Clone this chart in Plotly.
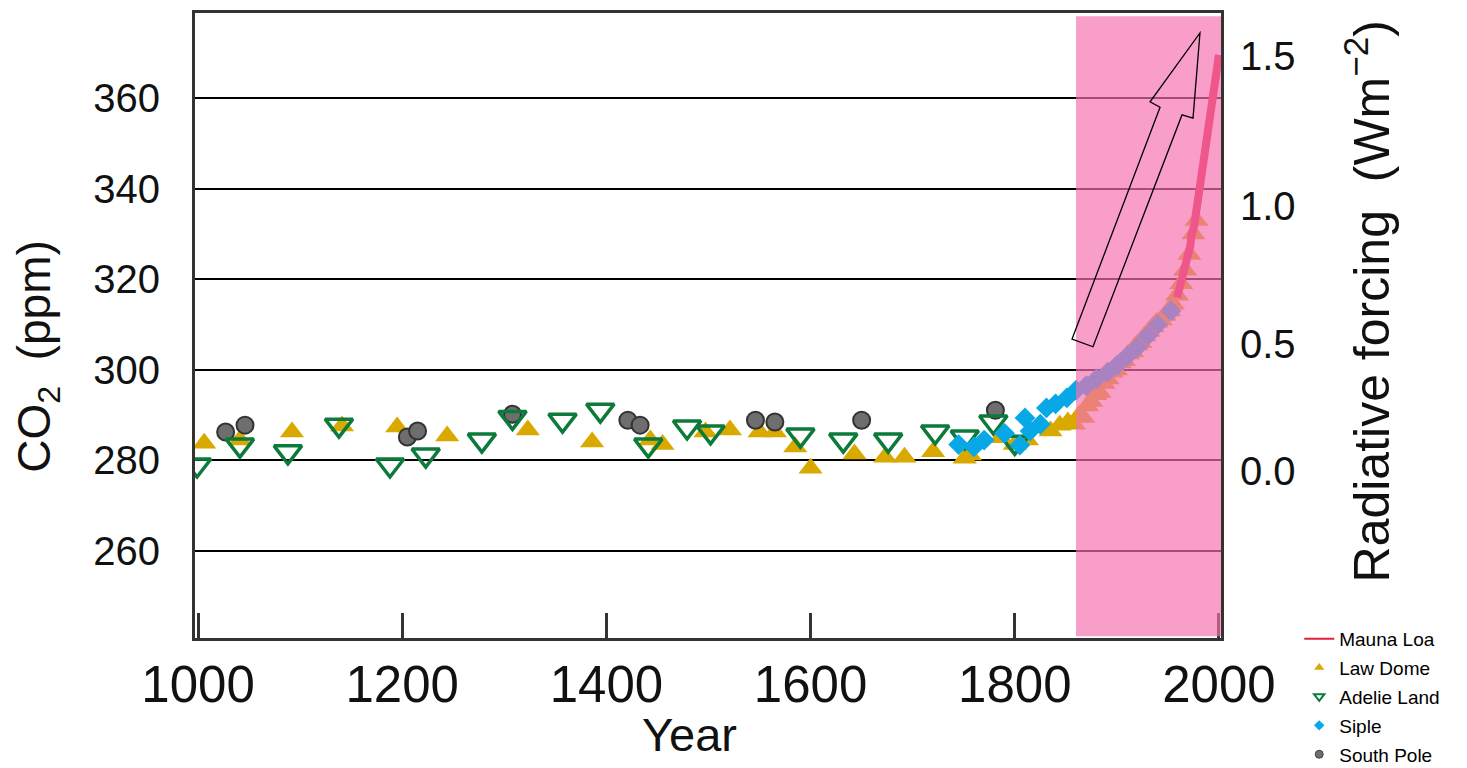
import plotly.graph_objects as go

# ---------------- data ----------------
law_dome_year = [1006, 1041, 1092, 1141, 1195, 1244, 1323, 1386, 1443, 1455, 1497, 1521, 1550,
                 1565, 1585, 1600, 1643, 1673, 1692, 1720, 1751, 1756, 1786, 1800, 1812, 1825,
                 1835, 1844, 1852, 1858, 1863, 1867, 1871, 1875, 1879, 1883, 1887, 1891, 1895,
                 1899, 1903, 1907, 1911, 1915, 1919, 1923, 1927, 1931, 1935, 1939, 1943, 1947,
                 1951, 1955, 1959, 1963, 1967, 1971, 1975, 1978]
law_dome_co2 = [283.8, 284.5, 286.3, 287.6, 287.4, 285.4, 286.7, 284.1, 284.5, 283.5, 286.3, 286.7, 286.3,
                286.3, 283.0, 278.3, 281.4, 280.7, 280.7, 281.9, 280.5, 281.2, 285.0, 283.5, 284.5, 287.2,
                286.5, 287.8, 288.5, 288.0, 290.0, 289.5, 292.0, 293.0, 294.5, 295.0, 297.0, 298.0, 299.5,
                300.0, 301.5, 302.0, 303.5, 304.0, 305.5, 306.0, 307.5, 308.5, 309.5, 310.5, 311.0, 312.0,
                313.0, 314.5, 316.5, 319.0, 322.0, 325.5, 330.0, 333.0]

adelie_year = [999, 1041, 1088, 1138, 1188, 1223, 1278, 1308, 1357, 1394, 1441, 1479, 1502,
               1590, 1632, 1676, 1722, 1751, 1779, 1800]
adelie_co2 = [279.0, 283.4, 281.9, 287.8, 279.0, 281.2, 284.5, 289.5, 288.9, 291.1, 283.4, 287.4, 286.3,
              285.6, 284.5, 284.5, 286.3, 285.2, 288.5, 284.0]

siple_year = [1745, 1760, 1770, 1790, 1805, 1810, 1815, 1825, 1831, 1840, 1851, 1860, 1870,
              1880, 1891, 1900, 1910, 1920, 1930, 1940, 1953]
siple_co2 = [283.5, 283.0, 284.5, 286.0, 283.4, 289.4, 286.5, 288.0, 291.6, 292.5, 293.8, 295.5, 296.5,
             298.0, 299.5, 301.0, 303.0, 305.0, 307.5, 310.0, 313.0]

south_pole_year = [1027, 1046, 1205, 1215, 1308, 1421, 1433, 1546, 1565, 1650, 1781]
south_pole_co2 = [286.3, 287.8, 285.2, 286.5, 290.2, 288.9, 287.8, 288.9, 288.5, 288.9, 291.1]

mauna_loa_year = list(range(1959, 2001))
mauna_loa_co2 = [315.98, 316.91, 317.64, 318.45, 318.99, 319.62, 320.04, 321.38, 322.16, 323.04,
                 324.62, 325.68, 326.32, 327.45, 329.68, 330.18, 331.11, 332.04, 333.83, 335.40,
                 336.84, 338.75, 340.11, 341.45, 343.05, 344.65, 346.12, 347.42, 349.19, 351.57,
                 353.12, 354.39, 355.61, 356.45, 357.10, 358.83, 360.82, 362.61, 363.73, 366.70,
                 368.38, 369.55]

x_ticks = [1000, 1200, 1400, 1600, 1800, 2000]
co2_ticks = [260, 280, 300, 320, 340, 360]
forcing_labels = ["0.0", "0.5", "1.0", "1.5"]
forcing_at_co2 = [277.7, 305.7, 336.2, 369.3]   # ppm level of each forcing tick

industrial_start = 1860
x_range = [997, 2002]
y_range = [240.8, 378.8]

# hollow arrow outline (year, ppm)
arrow_x = [1856.1, 1942.3, 1932.5, 1981.4, 1974.6, 1963.8, 1876.6]
arrow_y = [306.8, 358.0, 359.2, 374.4, 355.6, 356.3, 305.1]

# ---------------- styles ----------------
FONT = "Liberation Sans, Arial, Helvetica, sans-serif"
C_LAW = "#D9A900"
C_ADELIE = "#0B7A3A"
C_SIPLE = "#08A8E6"
C_SP = "#6E6E6E"
C_ML = "#E2203C"

fig = go.Figure()

fig.add_trace(go.Scatter(x=law_dome_year, y=law_dome_co2, mode="markers", showlegend=False,
                         marker=dict(symbol="triangle-up", size=21, color=C_LAW, line=dict(width=0))))
fig.add_trace(go.Scatter(x=south_pole_year, y=south_pole_co2, mode="markers", showlegend=False,
                         marker=dict(symbol="circle", size=17, color=C_SP, line=dict(width=2, color="#333"))))
fig.add_trace(go.Scatter(x=adelie_year, y=adelie_co2, mode="markers", showlegend=False,
                         marker=dict(symbol="triangle-down-open", size=24, color=C_ADELIE,
                                     line=dict(width=3.5, color=C_ADELIE))))
fig.add_trace(go.Scatter(x=siple_year, y=siple_co2, mode="markers", showlegend=False,
                         marker=dict(symbol="diamond", size=16, color=C_SIPLE, line=dict(width=0))))
fig.add_trace(go.Scatter(x=mauna_loa_year, y=mauna_loa_co2, mode="lines", showlegend=False,
                         line=dict(color=C_ML, width=8)))

# legend-only entries with small symbols
leg = [
    ("Mauna Loa", dict(mode="lines", line=dict(color=C_ML, width=2))),
    ("Law Dome", dict(mode="markers", marker=dict(symbol="triangle-up", size=9, color=C_LAW))),
    ("Adelie Land", dict(mode="markers", marker=dict(symbol="triangle-down-open", size=9, color=C_ADELIE,
                                                     line=dict(width=2, color=C_ADELIE)))),
    ("Siple", dict(mode="markers", marker=dict(symbol="diamond", size=8, color=C_SIPLE))),
    ("South Pole", dict(mode="markers", marker=dict(symbol="circle", size=8, color=C_SP,
                                                    line=dict(width=1, color="#444")))),
]
for name, kw in leg:
    fig.add_trace(go.Scatter(x=[None], y=[None], name=name, legendgroup=name, showlegend=True, **kw))

# invisible trace to activate the right-hand axis
fig.add_trace(go.Scatter(x=[None], y=[None], yaxis="y2", showlegend=False, hoverinfo="skip"))

# pink industrial-era overlay and hollow arrow
arrow_path = "M " + " L ".join(f"{a},{b}" for a, b in zip(arrow_x, arrow_y)) + " Z"
fig.update_layout(shapes=[
    dict(type="rect", xref="x", yref="paper", x0=industrial_start, x1=x_range[1], y0=0.003, y1=0.995,
         fillcolor="#F570B0", opacity=0.68, line=dict(width=0), layer="above"),
    dict(type="path", xref="x", yref="y", path=arrow_path, fillcolor="rgba(0,0,0,0)",
         line=dict(color="black", width=1.3), layer="above"),
])

# the page body has an 8px margin, so the figure is sized/offset to compensate
fig.update_layout(
    width=1459, height=760,
    margin=dict(l=187, r=246, t=5, b=130, autoexpand=False),
    paper_bgcolor="white", plot_bgcolor="white",
    font=dict(family=FONT, color="black"),
    xaxis=dict(range=x_range, tickvals=x_ticks, ticks="inside", ticklen=25, tickwidth=3, tickcolor="#333",
               showline=True, linewidth=3, linecolor="#333", mirror=True, showgrid=False, zeroline=False,
               automargin=False,
               tickfont=dict(size=51, family=FONT, color="#111"), ticklabelstandoff=0),
    yaxis=dict(range=y_range, tickvals=co2_ticks, ticks="", showline=True, linewidth=3, linecolor="#333",
               mirror=True, showgrid=True, gridcolor="black", gridwidth=1.6, zeroline=False, automargin=False,
               tickfont=dict(size=40, family=FONT, color="#111"), ticklabelstandoff=24),
    yaxis2=dict(range=y_range, overlaying="y", side="right", tickvals=forcing_at_co2, ticktext=forcing_labels,
                ticks="", showgrid=False, showline=False, zeroline=False, automargin=False,
                tickfont=dict(size=40, family=FONT, color="#111"), ticklabelstandoff=18),
    legend=dict(xref="container", yref="container", x=0.885, xanchor="left", y=0.195, yanchor="top",
                font=dict(size=19, family=FONT), bgcolor="rgba(0,0,0,0)", tracegroupgap=1.2),
    annotations=[
        dict(text="Year", xref="paper", yref="paper", x=0.482, y=-0.155, xanchor="center", yanchor="middle",
             showarrow=False, font=dict(size=47, family=FONT, color="#111")),
        dict(text="CO<sub>2</sub>  (ppm)", xref="paper", yref="paper", x=-0.153, y=0.45, xanchor="center",
             yanchor="middle", textangle=-90, showarrow=False, font=dict(size=46, family=FONT, color="#111")),
        dict(text="Radiative forcing  (Wm<sup>\u22122</sup>)", xref="paper", yref="paper", x=1.143, y=0.538,
             xanchor="center", yanchor="middle", textangle=-90, showarrow=False,
             font=dict(size=50, family=FONT, color="#111")),
    ],
)

fig.write_html("out.html")
